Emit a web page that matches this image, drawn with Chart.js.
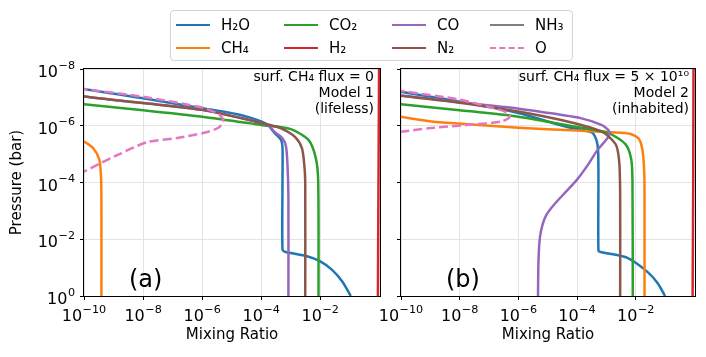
<!DOCTYPE html>
<html lang="en">
<head>
  <meta charset="UTF-8" />
  <title>Mixing ratio profiles</title>
  <script src="https://cdn.jsdelivr.net/npm/chart.js"></script>
  <style>
    body {
      margin: 0;
      background: #fff;
      font-family: "DejaVu Sans", sans-serif;
    }
    #wrap {
      position: relative;
      width: 706px;
      height: 357px;
      overflow: hidden;
      background: #fff;
    }
    #wrap canvas {
      position: absolute;
      top: 0;
    }
    #chartA { left: 0; }
    #chartB { left: 360px; }
    .legend {
      position: absolute;
      left: 170px;
      top: 10px;
      width: 403px;
      height: 51px;
      border: 1px solid #d4d4d4;
      border-radius: 4px;
      background: rgba(255, 255, 255, 0.8);
      padding: 1px 0 0 5px;
      box-sizing: border-box;
      display: grid;
      grid-template-rows: 23px 23px;
      grid-template-columns: 108px 108px 98px auto;
      grid-auto-flow: column;
      align-content: center;
      font-size: 15px;
      color: #000;
      z-index: 2;
    }
    .legend .item {
      display: flex;
      align-items: center;
      white-space: nowrap;
    }
    .legend .swatch {
      width: 34px;
      height: 0;
      border-top: 2.5px solid;
      margin-right: 11px;
    }
  </style>
</head>
<body>
  <div id="wrap">
    <canvas id="chartA" width="390" height="357"></canvas>
    <canvas id="chartB" width="346" height="357"></canvas>
    <div class="legend" id="legend"></div>
  </div>

  <script>
    // species in plotting order (matplotlib order, first one is drawn at the bottom)
    const species = ['H₂O', 'CH₄', 'CO₂', 'H₂', 'CO', 'N₂', 'NH₃', 'O'];
    const colors = ['#1f77b4', '#ff7f0e', '#2ca02c', '#d62728', '#9467bd', '#8c564b', '#7f7f7f', '#e377c2'];

    const xTickExps = [-10, -8, -6, -4, -2];
    const yTickExps = [-8, -6, -4, -2, 0];

    // profiles as [log10 mixing ratio, log10 pressure (bar)]
    // Model 1 (lifeless)
    const h2oA = [[-10.6,-7.45],[-10,-7.3],[-8,-6.97],[-6,-6.62],[-4.7,-6.38],[-4,-6.15],[-3.75,-6.0],[-3.55,-5.75],[-3.33,-5.5],[-3.28,-5.25],[-3.28,-4],[-3.28,-1.64],[-3.2,-1.56],[-2.45,-1.4],[-2.0,-1.22],[-1.6,-0.92],[-1.25,-0.5],[-0.97,0]];
    const ch4A = [[-10.6,-5.75],[-10,-5.44],[-9.68,-5.2],[-9.48,-4.8],[-9.42,-4.1],[-9.41,-3],[-9.41,0]];
    const co2A = [[-10.6,-6.82],[-10,-6.76],[-8,-6.55],[-6,-6.32],[-4,-6.03],[-3.0,-5.88],[-2.4,-5.5],[-2.15,-4.85],[-2.07,-4.0],[-2.06,0]];
    const h2A = [[-0.01,-8],[-0.03,-4],[-0.05,0]];
    const coA = [[-10.6,-7.15],[-10,-7.03],[-8,-6.8],[-6,-6.56],[-4.7,-6.28],[-4,-6.1],[-3.73,-6.0],[-3.56,-5.79],[-3.28,-5.56],[-3.16,-5.26],[-3.11,-4.6],[-3.08,-3.5],[-3.08,0]];
    const n2A = [[-10.6,-7.15],[-10,-7.03],[-8,-6.8],[-6,-6.56],[-4,-6.1],[-3.33,-5.91],[-2.85,-5.6],[-2.62,-5.2],[-2.54,-4.6],[-2.51,-4.0],[-2.51,0]];
    const nh3A = [];
    const oA = [[-10.6,-7.45],[-10,-7.3],[-8,-7.02],[-6,-6.64],[-5.43,-6.4],[-5.28,-6.18],[-5.45,-5.93],[-5.9,-5.76],[-6.85,-5.57],[-7.87,-5.42],[-8.8,-5.0],[-9.4,-4.7],[-10,-4.38],[-10.6,-4.1]];

    // Model 2 (inhabited)
    const h2oB = [[-10.6,-7.35],[-10,-7.2],[-8,-6.85],[-6,-6.45],[-4.9,-6.12],[-4.3,-5.95],[-3.5,-5.77],[-3.34,-5.5],[-3.28,-5.1],[-3.27,-4],[-3.27,-1.6],[-3.2,-1.55],[-2.3,-1.35],[-1.6,-0.85],[-1.25,-0.45],[-1.0,0]];
    const ch4B = [[-10.6,-6.45],[-10,-6.32],[-8.96,-6.15],[-7.71,-6.05],[-6,-5.93],[-4,-5.83],[-2.83,-5.77],[-2.2,-5.72],[-1.9,-5.55],[-1.78,-5.2],[-1.72,-4.6],[-1.7,-3.8],[-1.7,0]];
    const co2B = [[-10.6,-6.82],[-10,-6.76],[-8,-6.55],[-6,-6.32],[-4.08,-5.97],[-2.95,-5.75],[-2.35,-5.35],[-2.15,-4.8],[-2.11,-4.0],[-2.1,0]];
    const h2B = [[-0.03,-8],[-0.04,-4],[-0.06,0]];
    const coB = [[-10.6,-7.15],[-10,-7.07],[-8,-6.83],[-6.45,-6.66],[-5.1,-6.47],[-3.85,-6.26],[-3.17,-6.03],[-2.9,-5.8],[-2.95,-5.58],[-3.3,-5.15],[-3.63,-4.62],[-4.0,-4.1],[-4.4,-3.65],[-4.8,-3.2],[-5.05,-2.85],[-5.18,-2.5],[-5.26,-2.1],[-5.3,-1.6],[-5.32,-1.0],[-5.33,0]];
    const n2B = [[-10.6,-7.15],[-10,-7.06],[-8,-6.81],[-6,-6.5],[-4.08,-6.09],[-3.17,-5.8],[-2.9,-5.6],[-2.66,-5.3],[-2.56,-4.7],[-2.53,-3.6],[-2.53,0]];
    const nh3B = [];
    const oB = [[-10.6,-7.38],[-10,-7.23],[-8,-6.92],[-6.46,-6.5],[-6.29,-6.32],[-6.57,-6.15],[-7.6,-6.04],[-9.07,-5.91],[-10,-5.79],[-10.6,-5.72]];

    const profilesA = [h2oA, ch4A, co2A, h2A, coA, n2A, nh3A, oA];
    const profilesB = [h2oB, ch4B, co2B, h2B, coB, n2B, nh3B, oB];

    const notesA = ['surf. CH₄ flux = 0', 'Model 1', '(lifeless)'];
    const notesB = ['surf. CH₄ flux = 5 × 10¹⁰', 'Model 2', '(inhabited)'];

    const FONT = '"DejaVu Sans", sans-serif';

    // legend
    const legend = document.getElementById('legend');
    species.forEach((name, i) => {
      const item = document.createElement('div');
      item.className = 'item';
      const sw = document.createElement('span');
      sw.className = 'swatch';
      sw.style.borderTopColor = colors[i];
      if (name === 'O') sw.style.borderTopStyle = 'dashed';
      const label = document.createElement('span');
      label.textContent = name;
      item.appendChild(sw);
      item.appendChild(label);
      legend.appendChild(item);
    });

    // "10" with a raised exponent, like matplotlib mathtext
    function drawPow(ctx, value, x, baseline, align) {
      const e = Math.round(Math.log10(value));
      const exp = e < 0 ? '−' + (-e) : String(e);
      ctx.font = '16px ' + FONT;
      const wb = ctx.measureText('10').width;
      ctx.font = '11.2px ' + FONT;
      const we = ctx.measureText(exp).width;
      const total = wb + we + 0.5;
      let x0 = align === 'right' ? x - total : x - total / 2;
      ctx.textAlign = 'left';
      ctx.textBaseline = 'alphabetic';
      ctx.font = '16px ' + FONT;
      ctx.fillText('10', x0, baseline);
      ctx.font = '11.2px ' + FONT;
      ctx.fillText(exp, x0 + wb + 0.5, baseline - 8.5);
    }

    // frame, tick labels and panel text
    const framePlugin = {
      id: 'frame',
      afterDraw(chart, args, opts) {
        const { ctx, chartArea: a, scales } = chart;
        ctx.save();
        ctx.strokeStyle = '#000';
        ctx.lineWidth = 1;
        ctx.strokeRect(a.left - 0.5, a.top - 0.5, a.right - a.left + 1, a.bottom - a.top + 1);
        ctx.fillStyle = '#000';
        scales.x.ticks.forEach(t => drawPow(ctx, t.value, scales.x.getPixelForValue(t.value), a.bottom + 25, 'center'));
        if (opts.yLabels) {
          scales.y.ticks.forEach(t => drawPow(ctx, t.value, a.left - 9, scales.y.getPixelForValue(t.value) + 8, 'right'));
        }
        ctx.textAlign = 'right';
        ctx.textBaseline = 'middle';
        ctx.font = '14px ' + FONT;
        opts.notes.forEach((t, i) => ctx.fillText(t, a.right - 6, a.top + 8 + i * 16.3));
        ctx.textAlign = 'left';
        ctx.font = '24px ' + FONT;
        ctx.fillText(opts.letter, a.left + 45, a.bottom - 15);
        ctx.restore();
      }
    };

    function makeChart(id, profiles, notes, letter, leftWidth, rightPad, showY) {
      const datasets = profiles.map((pts, k) => ({
        label: species[k],
        data: pts.map(p => ({ x: Math.pow(10, p[0]), y: Math.pow(10, p[1]) })),
        borderColor: colors[k],
        borderWidth: 2.5,
        borderDash: species[k] === 'O' ? [9, 4] : [],
        showLine: true,
        pointRadius: 0,
        tension: 0.25,
        fill: false,
        order: profiles.length - k
      }));
      return new Chart(document.getElementById(id), {
        type: 'scatter',
        data: { datasets },
        options: {
          responsive: false,
          animation: false,
          layout: { padding: { top: 69, right: rightPad, left: 0, bottom: 0 } },
          plugins: {
            legend: { display: false },
            tooltip: { enabled: false },
            frame: { notes, letter, yLabels: showY }
          },
          scales: {
            x: {
              type: 'logarithmic',
              min: 1e-10,
              max: 1.05,
              afterBuildTicks: s => { s.ticks = xTickExps.map(e => ({ value: Math.pow(10, e) })); },
              afterFit: s => { s.height = 61; },
              ticks: { display: false },
              grid: { color: '#e3e3e3', tickColor: '#000', tickLength: 4 },
              border: { display: false },
              title: {
                display: true,
                text: 'Mixing Ratio',
                font: { family: FONT, size: 15 },
                color: '#000',
                padding: { top: 0, bottom: 13 }
              }
            },
            y: {
              type: 'logarithmic',
              reverse: true,
              min: 1e-8,
              max: 1,
              afterBuildTicks: s => { s.ticks = yTickExps.map(e => ({ value: Math.pow(10, e) })); },
              afterFit: s => { s.width = leftWidth; },
              ticks: { display: false },
              grid: { color: '#e3e3e3', tickColor: '#000', tickLength: 4 },
              border: { display: false },
              title: {
                display: showY,
                text: 'Pressure (bar)',
                font: { family: FONT, size: 15 },
                color: '#000',
                padding: { top: 8, bottom: 0 }
              }
            }
          }
        },
        plugins: [framePlugin]
      });
    }

    makeChart('chartA', profilesA, notesA, '(a)', 84, 10, true);
    makeChart('chartB', profilesB, notesB, '(b)', 41, 11, false);
  </script>
</body>
</html>
